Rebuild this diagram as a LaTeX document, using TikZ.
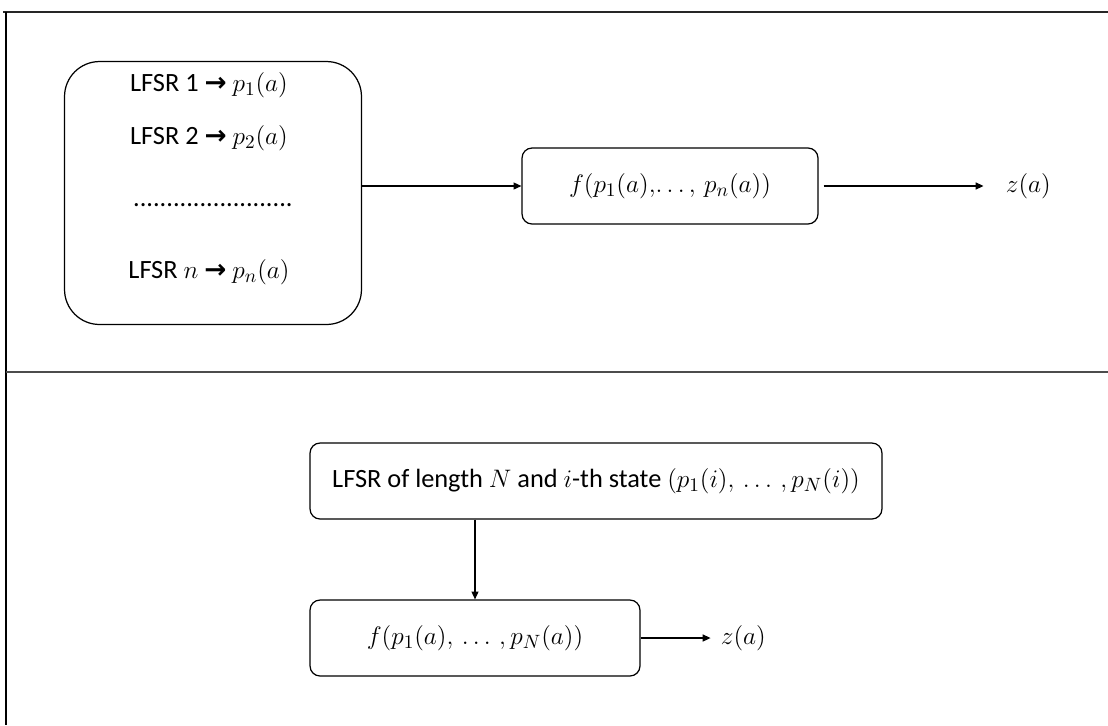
\documentclass[tikz,border=0pt]{standalone}
\usepackage{amsmath}
\usepackage{fontspec}
\setmainfont{Carlito}
\newfontfamily\arrowfont{DejaVu Sans}
\usetikzlibrary{arrows.meta, positioning}
\tikzstyle{regbox}=[draw, line width=0.7pt, rounded corners=0.7cm, minimum width=5.94cm, minimum height=5.26cm]
\tikzstyle{funcbox}=[draw, line width=0.7pt, rounded corners=0.2cm, minimum height=1.52cm]
\tikzstyle{txt}=[inner sep=0pt]
\tikzstyle{flow}=[-{Triangle[length=4.5pt, width=4pt]}, line width=0.7pt]
\tikzstyle{frameline}=[line width=1.3pt]
\newcommand{\feeds}{\ {\arrowfont\bfseries →}\ }

\begin{document}
\begin{tikzpicture}[x=0.02cm, y=-0.02cm, font=\fontsize{15}{18}\selectfont]
    \useasboundingbox (0,0) rectangle (1108,725);

    % Frame
    \draw[frameline, black!85] (3,12) -- (1108,12);
    \draw[frameline] (6,12) -- (6,725);
    \draw[frameline, black!70] (6,372) -- (1108,372);

    % Upper part: n registers combined by f
    \node[txt] (reg1) at (209,85) {LFSR 1\feeds$p_1(a)$};
    \node[regbox] (regs) at (213,193) {};
    \node[txt] (reg2) at (209,138) {LFSR 2\feeds$p_2(a)$};
    \node[txt] (regdots) at (213,205) {........................};
    \node[txt] (regn) at (209,272) {LFSR $n$\feeds$p_n(a)$};

    \node[funcbox, minimum width=5.92cm] (fn) at (670,186) {$f(p_1(a),\!\ldots,\, p_n(a))$};
    \node[txt, anchor=west] (zn) [right=3.74cm of fn] {$z(a)$};

    \draw[flow] (fn.west -| regs.east) -- (fn.west);
    \draw[flow, shorten <=0.1cm, shorten >=0.44cm] (fn.east) -- (zn.west);

    % Lower part: one register of length N
    \node[funcbox, minimum width=11.44cm] (reg) at (596,481) {LFSR of length $N$ and $i$-th state $(p_1(i),\,\ldots\,,p_N(i))$};
    \node[funcbox, minimum width=6.6cm] (fN) at (475,638) {$f(p_1(a),\,\ldots\,,p_N(a))$};
    \node[txt, anchor=west] (zN) [right=1.6cm of fN] {$z(a)$};

    \draw[flow] (reg.south -| fN.north) -- (fN.north);
    \draw[flow, shorten >=0.2cm] (fN.east) -- (zN.west);
\end{tikzpicture}
\end{document}
